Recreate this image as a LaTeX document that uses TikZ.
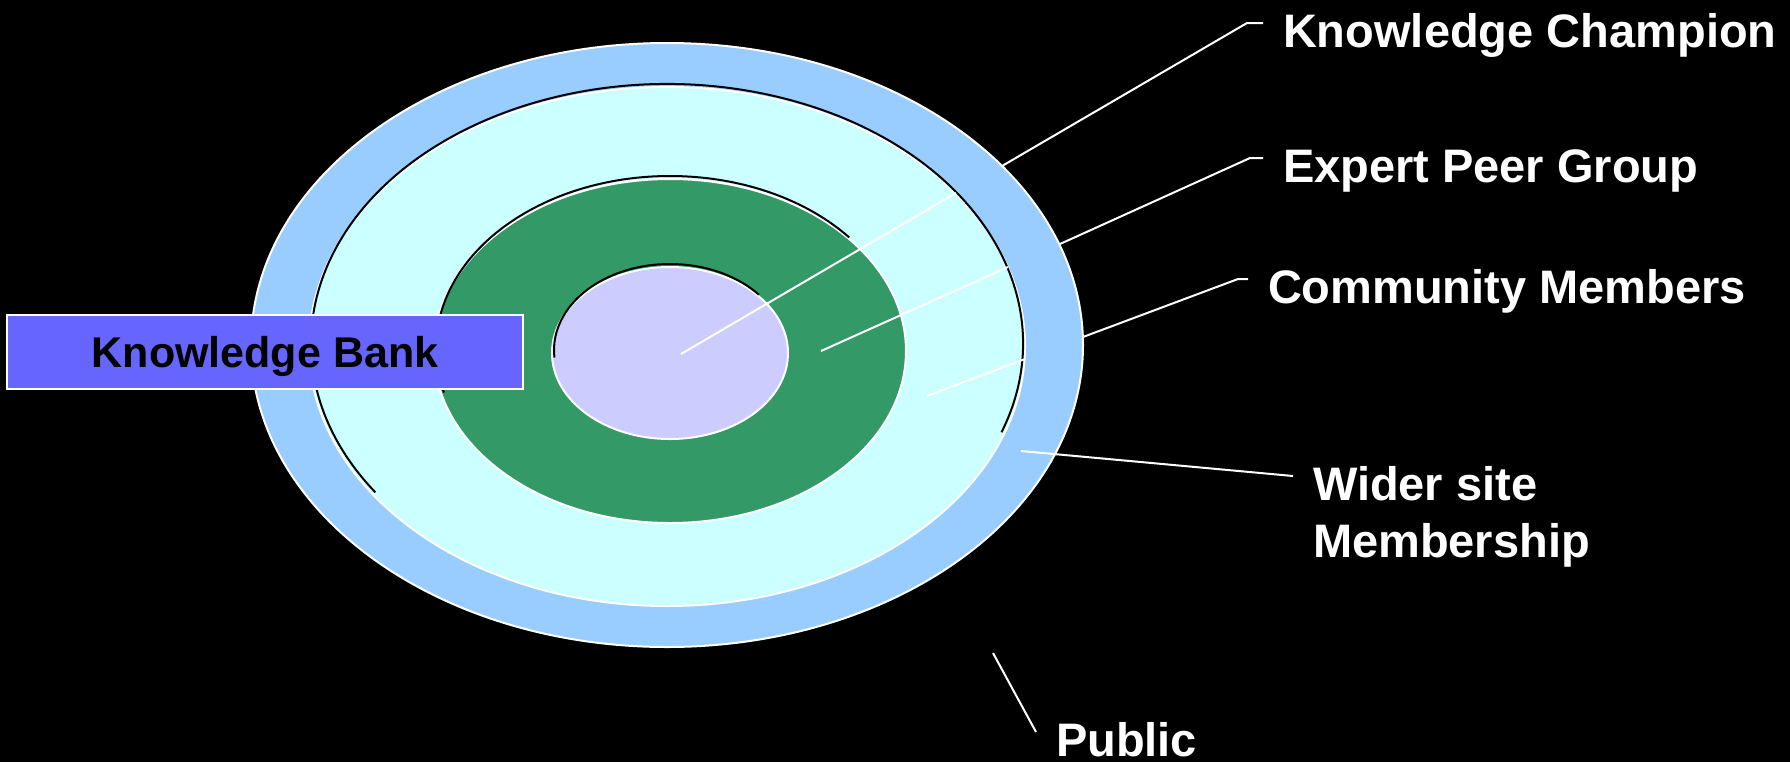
\documentclass[tikz,border=0pt]{standalone}
\usepackage{fontspec}
\setmainfont{Liberation Sans}
\definecolor{ringblue}{HTML}{99CCFF}
\definecolor{paleaqua}{HTML}{CCFFFF}
\definecolor{peergreen}{HTML}{339966}
\definecolor{lavender}{HTML}{CCCCFF}
\definecolor{bankblue}{HTML}{6666FF}
\tikzset{
  rim/.style={draw=white, line width=1pt},
  shadowline/.style={draw=black, line width=1pt},
  leader/.style={draw=white, line width=1pt},
  lbltext/.style={text=white, font=\bfseries\fontsize{23.5}{28.5}\selectfont,
    inner xsep=9.5pt, inner ysep=0pt},
  lbl/.style={lbltext, anchor=west, text height=24pt, text depth=0pt},
}
\begin{document}
\begin{tikzpicture}[x=0.5pt, y=-0.5pt, line width=1pt]
\fill[black] (0,0) rectangle (1790,762);
\useasboundingbox (0,0) rectangle (1790,762);
% wider site ring
\filldraw[fill=ringblue, rim] (667,345) ellipse (416 and 302);
% community
\filldraw[fill=paleaqua, rim] (667,346.5) ellipse (358 and 259.5);
\draw[shadowline] ([shift={(20:356 and 259.5)}]667,343.5)
  arc[start angle=20, end angle=-215, x radius=356, y radius=259.5];
% expert peer group
\filldraw[fill=peergreen, rim] (670,351) ellipse (236 and 172);
\draw[shadowline] ([shift={(-40:234 and 172)}]670,348)
  arc[start angle=-40, end angle=-195, x radius=234, y radius=172];
% champion
\filldraw[fill=lavender, rim] (670,353) ellipse (118 and 86);
\draw[shadowline] ([shift={(-40:116 and 86)}]670,350)
  arc[start angle=-40, end angle=-185, x radius=116, y radius=86];

% labels
\node[lbl] (champion) at (1263,23) {Knowledge Champion};
\node[lbl] (expert) at (1263,158) {Expert Peer Group};
\node[lbl] (members) at (1248,279) {Community Members};
\node[lbltext, align=left, anchor=base west] (wider) at (1293,557) {Wider site\\Membership};
\node[lbl] (public) at (1036,732) {Public};

% leaders
\coordinate (kc0) at (681,354);
\coordinate (kc1) at (956,193);
\coordinate (kc2) at (1002,166);
\coordinate (kc3) at (1247,23);
\coordinate (ep0) at (821,351);
\coordinate (ep1) at (1008,267);
\coordinate (ep2) at (1060,244);
\coordinate (ep3) at (1250,158);
\coordinate (cm0) at (927,396);
\coordinate (cm1) at (1025,359);
\coordinate (cm2) at (1083,337);
\coordinate (cm3) at (1238,279);
\coordinate (ws0) at (1021,451);
\coordinate (pb0) at (993,653);
\draw[leader] (kc0) -- (kc1);
\draw[leader] (kc2) -- (kc3) -- (champion.west);
\draw[leader] (ep0) -- (ep1);
\draw[leader] (ep2) -- (ep3) -- (expert.west);
\draw[leader] (cm0) -- (cm1);
\draw[leader] (cm2) -- (cm3) -- (members.west);
\draw[leader] (ws0) -- ([yshift=40.5pt]wider.base west);
\draw[leader] (pb0) -- (public.west);

% knowledge bank
\node[draw=white, line width=1pt, fill=bankblue, text=black,
  minimum width=258pt, minimum height=37pt, inner sep=0pt, text depth=0pt,
  font=\bfseries\fontsize{21.5}{25}\selectfont] (kbank) at (265,352) {Knowledge Bank};
\end{tikzpicture}
\end{document}
